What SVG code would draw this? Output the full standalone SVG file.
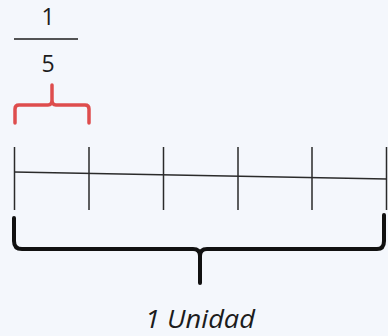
<svg xmlns="http://www.w3.org/2000/svg" width="388" height="336" viewBox="0 0 388 336">
<style>
.txt{font-family:"Open Sans","Liberation Sans",sans-serif;fill:#1c1c1c}
.tick{stroke:#2a2a2a;stroke-width:1.5;fill:none}
.brace{fill:none;stroke-linecap:round;stroke-linejoin:round}
</style>
<rect width="388" height="336" fill="#F4F7FC"/>
<g id="fraction">
<text class="txt" x="48" y="25" font-size="23" text-anchor="middle">1</text>
<line x1="14" y1="39" x2="78" y2="39" stroke="#1c1c1c" stroke-width="1.5"/>
<text class="txt" x="48" y="72" font-size="23" text-anchor="middle">5</text>
</g>
<g id="red-brace">
<path class="brace" stroke="#DE4D4D" stroke-width="3.5" d="M15,123 V109 Q15,105 19,105 H48 Q52,105 52,100 V85 M52,100 Q52,105 56,105 H85 Q89,105 89,109 V123"/>
</g>
<g id="number-line">
<line class="tick" x1="14" y1="172" x2="387" y2="179"/>
<line class="tick" x1="14.5" y1="147" x2="14.5" y2="210"/>
<line class="tick" x1="89" y1="147" x2="89" y2="210"/>
<line class="tick" x1="163.5" y1="147" x2="163.5" y2="210"/>
<line class="tick" x1="238" y1="147" x2="238" y2="210"/>
<line class="tick" x1="312" y1="147" x2="312" y2="210"/>
<line class="tick" x1="386.5" y1="147" x2="386.5" y2="210"/>
</g>
<g id="unit-brace">
<path class="brace" stroke="#111" stroke-width="4" d="M14,218 V241 Q14,249 22,249 H193 Q200,249 200,256 V283 M200,256 Q200,249 207,249 H377 Q384,249 384,241 V215"/>
</g>
<g id="unit-label">
<text class="txt" x="200" y="328" font-size="25" font-style="italic" text-anchor="middle" textLength="110" lengthAdjust="spacingAndGlyphs">1 Unidad</text>
</g>
</svg>
